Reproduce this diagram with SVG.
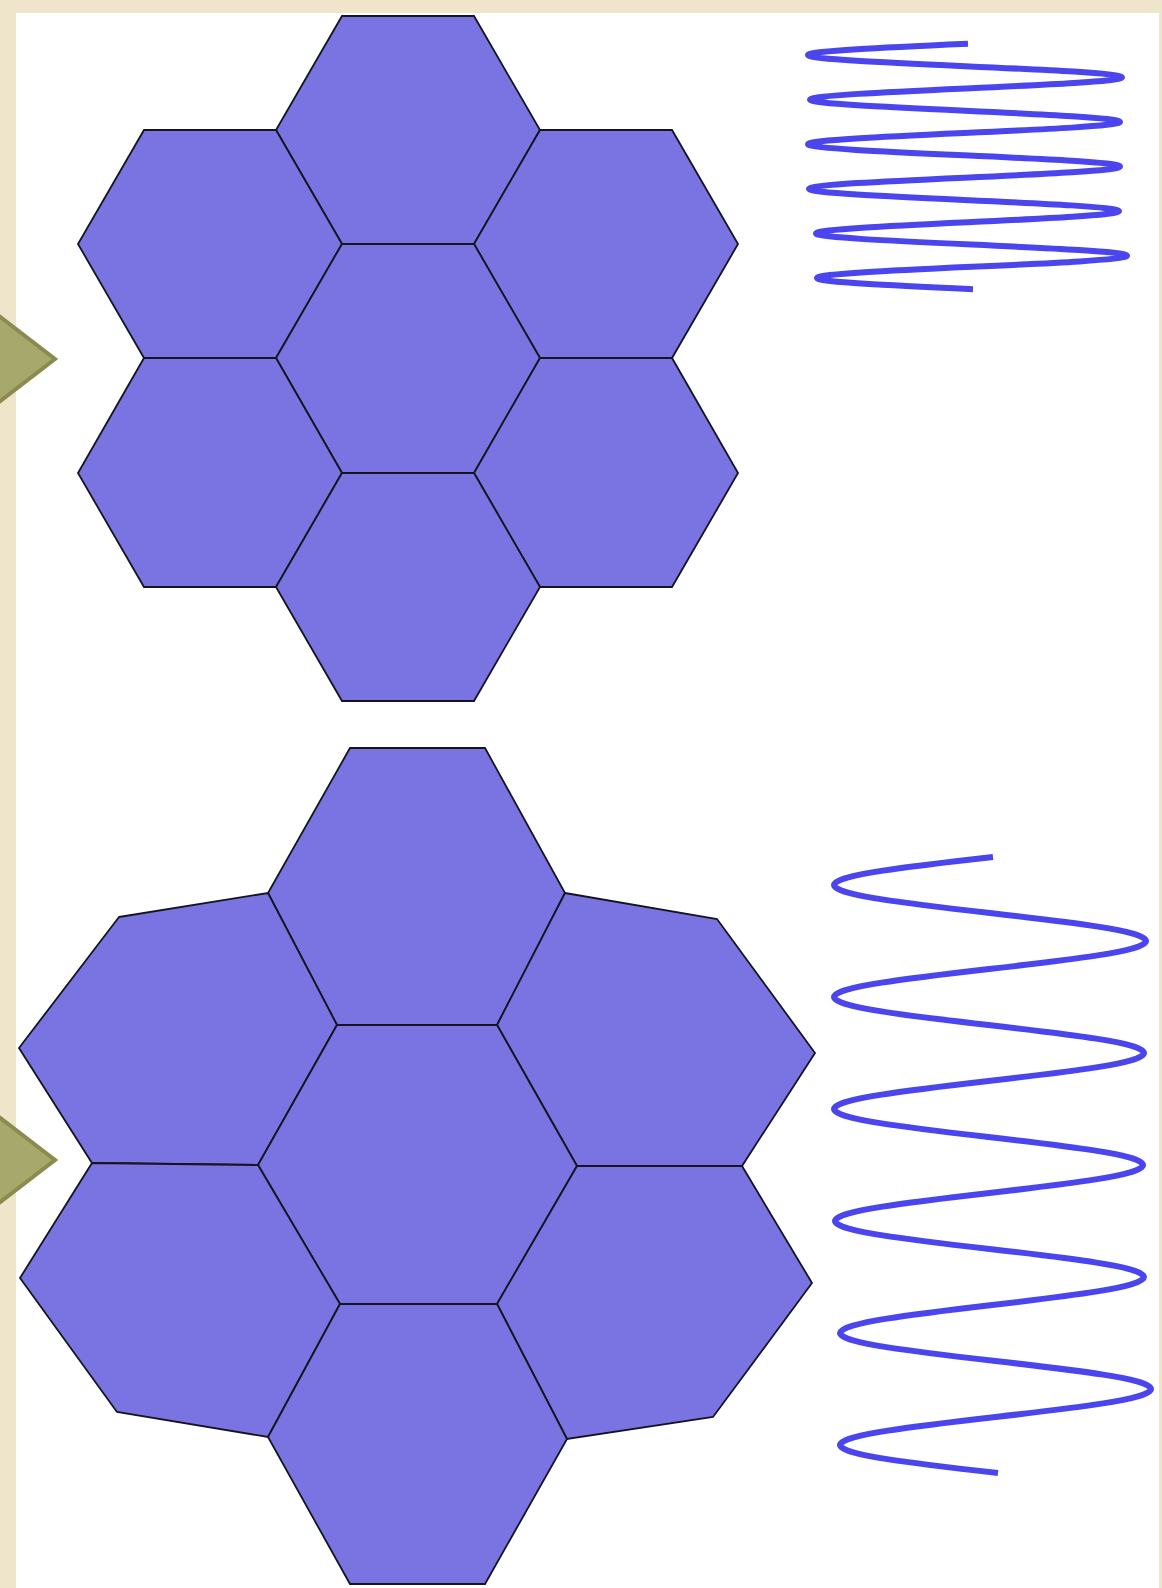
<svg xmlns="http://www.w3.org/2000/svg" width="1162" height="1588" viewBox="0 0 1162 1588">
<style>
.bg{fill:#eee5cb}
.panel{fill:#ffffff}
.hex{fill:#7a74e3;stroke:#15151f;stroke-width:1.8;stroke-linejoin:miter}
.tri{fill:#a7a86b;stroke:#8a8b4f;stroke-width:4;stroke-linejoin:miter}
.spring{fill:none;stroke:#4b45ee;stroke-width:6;stroke-linecap:butt;stroke-linejoin:round}
</style>
<rect class="bg" x="0" y="0" width="1162" height="1588"/>
<rect class="panel" x="16" y="13" width="1143" height="1575"/>

<g id="top-cluster">
  <g id="hex-top-T"><polygon class="hex" points="342,16 474,16 540,130 474,244 342,244 276,130"/></g>
  <g id="hex-top-TL"><polygon class="hex" points="144,130 276,130 342,244 276,358 144,358 78,244"/></g>
  <g id="hex-top-TR"><polygon class="hex" points="540,130 672,130 738,244 672,358 540,358 474,244"/></g>
  <g id="hex-top-C"><polygon class="hex" points="342,244 474,244 540,358 474,473 342,473 276,358"/></g>
  <g id="hex-top-BL"><polygon class="hex" points="144,358 276,358 342,473 276,587 144,587 78,473"/></g>
  <g id="hex-top-BR"><polygon class="hex" points="540,358 672,358 738,473 672,587 540,587 474,473"/></g>
  <g id="hex-top-B"><polygon class="hex" points="342,473 474,473 540,587 474,701 342,701 276,587"/></g>
</g>

<g id="bottom-cluster">
  <g id="hex-bot-T"><polygon class="hex" points="350,748 485,748 565,893 497,1025 337,1025 268,893"/></g>
  <g id="hex-bot-TL"><polygon class="hex" points="119,917 268,893 337,1025 258,1165 92,1163 19,1048"/></g>
  <g id="hex-bot-TR"><polygon class="hex" points="565,893 717,919 815,1053 742,1166 577,1166 497,1025"/></g>
  <g id="hex-bot-C"><polygon class="hex" points="337,1025 497,1025 577,1166 497,1304 340,1304 258,1165"/></g>
  <g id="hex-bot-BL"><polygon class="hex" points="92,1163 258,1165 340,1304 268,1437 117,1412 20,1278"/></g>
  <g id="hex-bot-BR"><polygon class="hex" points="577,1166 742,1166 812,1283 713,1417 567,1439 497,1304"/></g>
  <g id="hex-bot-B"><polygon class="hex" points="340,1304 497,1304 567,1439 485,1584 350,1584 268,1437"/></g>
</g>

<g id="bullets">
  <polygon class="tri" points="-10,309 55,359 -10,409"/>
  <polygon class="tri" points="-10,1110 55,1160 -10,1210"/>
</g>

<g id="springs">
  <path id="spring-tight" class="spring" d="M968,43.85
    C886,47.49 808,50.96 808,55
    C808,59.04 884.6,62.51 965,66.15
    C1045.4,69.79 1122,73.26 1122,77.3
    C1122,81.34 1045.9,84.81 966,88.45
    C886.1,92.09 810,95.56 810,99.6
    C810,103.64 885.6,107.11 965,110.75
    C1044.4,114.39 1120,117.86 1120,121.9
    C1120,125.94 1043.9,129.41 964,133.05
    C884.1,136.69 808,140.16 808,144.2
    C808,148.24 884.1,151.71 964,155.35
    C1043.9,158.99 1120,162.46 1120,166.5
    C1120,170.54 1044.2,174.01 964.5,177.65
    C884.8,181.29 809,184.76 809,188.8
    C809,192.84 884.6,196.31 964,199.95
    C1043.4,203.59 1119,207.06 1119,211.1
    C1119,215.14 1045.1,218.61 967.5,222.25
    C889.9,225.89 816,229.36 816,233.4
    C816,237.44 891.8,240.91 971.5,244.55
    C1051.2,248.19 1127,251.66 1127,255.7
    C1127,259.74 1051.4,263.21 972,266.85
    C892.6,270.49 817,273.96 817,278
    C817,282.04 893.1,285.51 973,289.15"/>
  <path id="spring-loose" class="spring" d="M993,857
    C911.5,866.13 834,874.87 834,885
    C834,895.13 910.1,903.87 990,913
    C1069.9,922.13 1146,930.87 1146,941
    C1146,951.13 1069.4,959.87 989,969
    C909.6,978.13 834,986.87 834,997
    C834,1007.13 909.3,1015.87 988.5,1025
    C1068.2,1034.13 1144,1042.87 1144,1053
    C1144,1063.13 1068.2,1071.87 988.5,1081
    C909.3,1090.13 834,1098.87 834,1109
    C834,1119.13 909.3,1127.87 988.5,1137
    C1067.7,1146.13 1143,1154.87 1143,1165
    C1143,1175.13 1068.1,1183.87 989.5,1193
    C910.3,1202.13 835,1210.87 835,1221
    C835,1231.13 910.3,1239.87 989.5,1249
    C1068.7,1258.13 1144,1266.87 1144,1277
    C1144,1287.13 1069.9,1295.87 992,1305
    C914.1,1314.13 840,1322.87 840,1333
    C840,1343.13 915.8,1351.87 995.5,1361
    C1075.2,1370.13 1151,1378.87 1151,1389
    C1151,1399.13 1075.2,1407.87 995.5,1417
    C915.8,1426.13 840,1434.87 840,1445
    C840,1455.13 917.1,1463.87 998,1473"/>
</g>
</svg>
